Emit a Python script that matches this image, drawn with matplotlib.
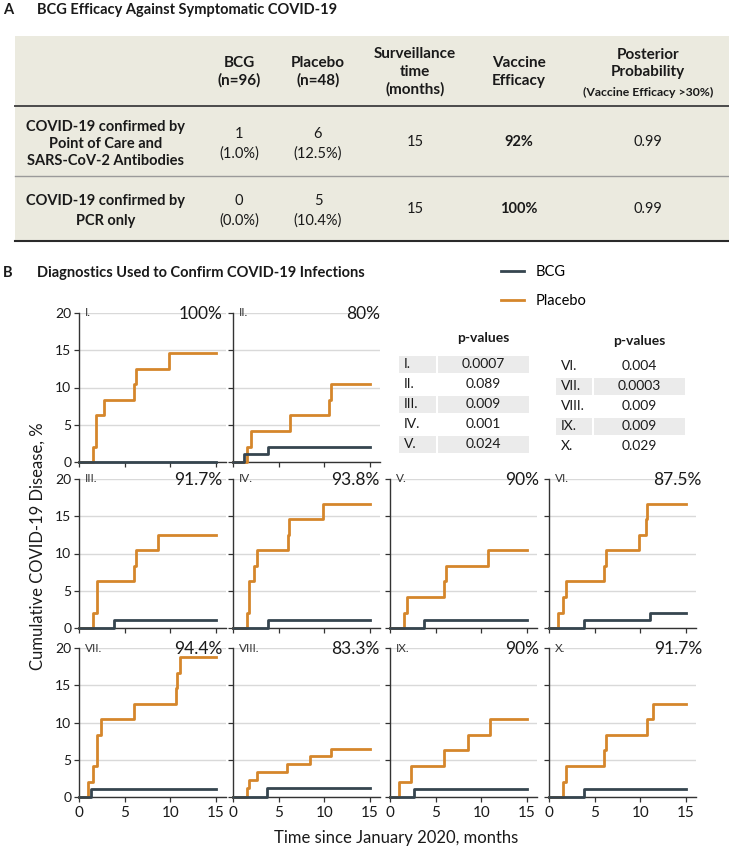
import matplotlib
matplotlib.use("Agg")
import matplotlib.pyplot as plt
from matplotlib.patches import Rectangle

plt.rcParams["font.family"] = ["Lato", "DejaVu Sans"]

# ============ 数据 ============
# A: 表格
TABLE_HEADERS = ["BCG\n(n=96)", "Placebo\n(n=48)", "Surveillance\ntime\n(months)",
                 "Vaccine\nEfficacy", "Posterior\nProbability"]
TABLE_SUBHEADER = "(Vaccine Efficacy >30%)"
ROW_LABELS = ["COVID-19 confirmed by\nPoint of Care and\nSARS-CoV-2 Antibodies",
              "COVID-19 confirmed by\nPCR only"]
BCG_CASES = ["1\n(1.0%)", "0\n(0.0%)"]
PLACEBO_CASES = ["6\n(12.5%)", "5\n(10.4%)"]
SURVEILLANCE = ["15", "15"]
EFFICACY_TABLE = ["92%", "100%"]
POSTERIOR = ["0.99", "0.99"]

# B: 累积发病曲线（事件时间, 累积百分比）
PANEL_NAMES = ["I.", "II.", "III.", "IV.", "V.", "VI.", "VII.", "VIII.", "IX.", "X."]
PANEL_EFFICACY = ["100%", "80%", "91.7%", "93.8%", "90%", "87.5%", "94.4%", "83.3%", "90%", "91.7%"]
PANEL_GRID = [(0, 0), (0, 1), (1, 0), (1, 1), (1, 2), (1, 3), (2, 0), (2, 1), (2, 2), (2, 3)]

PLACEBO_T = [
    [1.55, 1.9, 2.75, 6.05, 6.2, 9.9],
    [1.57, 1.93, 6.24, 10.55, 10.77],
    [1.57, 1.93, 5.98, 6.2, 8.6],
    [1.55, 1.8, 2.29, 2.65, 5.97, 6.16, 9.84],
    [1.57, 1.9, 5.96, 6.18, 10.72],
    [0.96, 1.58, 1.84, 5.99, 6.21, 9.89, 10.59, 10.77],
    [1.02, 1.57, 1.93, 2.37, 5.99, 10.58, 10.73, 11.02],
    [1.54, 1.8, 2.67, 5.93, 8.42, 10.72],
    [0.99, 2.3, 5.96, 8.53, 10.98],
    [1.54, 1.84, 5.99, 6.25, 10.77, 11.43],
]
PLACEBO_Y = [
    [2.08, 6.25, 8.33, 10.42, 12.5, 14.58],
    [2.08, 4.17, 6.25, 8.33, 10.42],
    [2.08, 6.25, 8.33, 10.42, 12.5],
    [2.08, 6.25, 8.33, 10.42, 12.5, 14.58, 16.67],
    [2.08, 4.17, 6.25, 8.33, 10.42],
    [2.08, 4.17, 6.25, 8.33, 10.42, 12.5, 14.58, 16.67],
    [2.08, 4.17, 8.33, 10.42, 12.5, 14.58, 16.67, 18.75],
    [1.17, 2.3, 3.38, 4.41, 5.45, 6.44],
    [2.08, 4.17, 6.25, 8.33, 10.42],
    [2.08, 4.17, 6.25, 8.33, 10.42, 12.5],
]
BCG_T = [[], [1.2, 3.87], [3.87], [3.8], [3.77], [3.79, 11.07], [1.28], [3.77], [2.63], [3.79]]
BCG_Y = [[], [1.04, 2.08], [1.04], [1.04], [1.04], [1.04, 2.08], [1.04], [1.17], [1.04], [1.04]]
END_TIME = 15

P_LABELS_LEFT = ["I.", "II.", "III.", "IV.", "V."]
P_VALUES_LEFT = ["0.0007", "0.089", "0.009", "0.001", "0.024"]
P_LABELS_RIGHT = ["VI.", "VII.", "VIII.", "IX.", "X."]
P_VALUES_RIGHT = ["0.004", "0.0003", "0.009", "0.009", "0.029"]

# ============ 样式 ============
W, H = 729, 848
C_PLACEBO = "#d5862b"
C_BCG = "#36454f"
C_TABLE_BG = "#ebeadf"
C_SHADE = "#ebebeb"
C_TEXT = "#1a1a1a"

fig = plt.figure(figsize=(W / 100, H / 100), dpi=100)

# 像素坐标覆盖层，用于标题与表格
ov = fig.add_axes([0, 0, 1, 1])
ov.set_xlim(0, W)
ov.set_ylim(H, 0)
ov.axis("off")

# ---- A ----
ov.text(3, 10, "A", fontsize=10.5, fontweight="bold", va="center", color=C_TEXT)
ov.text(37, 10, "BCG Efficacy Against Symptomatic COVID-19", fontsize=10.5,
        fontweight="bold", va="center", color=C_TEXT)
ov.add_patch(Rectangle((15, 36), W - 15, 205, facecolor=C_TABLE_BG, edgecolor="none"))
ov.plot([15, W], [106, 106], color="#4a4a4a", lw=1.4)
ov.plot([15, W], [176, 176], color="#9a9a9a", lw=1.0)
ov.plot([15, W], [241, 241], color="#2a2a2a", lw=1.5)

col_x = [239, 318, 415, 519, 648]
header_y = [72, 72, 72, 72, 63.5]
for x, y, txt in zip(col_x, header_y, TABLE_HEADERS):
    ov.text(x, y, txt, fontsize=11, fontweight="bold", ha="center", va="center",
            linespacing=1.3, color=C_TEXT)
ov.text(col_x[4], 92, TABLE_SUBHEADER, fontsize=8.8, fontweight="bold",
        ha="center", va="center", color=C_TEXT)

row_y = [144, 211]
label_spacing = [1.25, 1.5]
for i in range(2):
    y = row_y[i]
    ov.text(106, y, ROW_LABELS[i], fontsize=10.5, fontweight="bold", ha="center",
            va="center", linespacing=label_spacing[i], color=C_TEXT)
    ov.text(col_x[0], y, BCG_CASES[i], fontsize=10.5, ha="center", va="center",
            linespacing=1.5, color=C_TEXT)
    ov.text(col_x[1], y, PLACEBO_CASES[i], fontsize=10.5, ha="center", va="center",
            linespacing=1.5, color=C_TEXT)
    ov.text(col_x[2], y - 2, SURVEILLANCE[i], fontsize=10.5, ha="center", va="center",
            color=C_TEXT)
    ov.text(col_x[3], y - 2, EFFICACY_TABLE[i], fontsize=10.5, fontweight="bold",
            ha="center", va="center", color=C_TEXT)
    ov.text(col_x[4], y - 2, POSTERIOR[i], fontsize=10.5, ha="center", va="center",
            color=C_TEXT)

# ---- B ----
ov.text(3, 273, "B", fontsize=10.5, fontweight="bold", va="center", color=C_TEXT)
ov.text(37, 273, "Diagnostics Used to Confirm COVID-19 Infections", fontsize=10.5,
        fontweight="bold", va="center", color=C_TEXT)

# p-value 表
def draw_pvalues(labels, values, lab_x0, lab_x1, val_x1, head_y, row0, shaded):
    val_x0 = lab_x1 + 2
    ov.text((val_x0 + val_x1) / 2, head_y, "p-values", fontsize=10, fontweight="bold",
            ha="center", va="center", color=C_TEXT)
    for k, (lab, val) in enumerate(zip(labels, values)):
        y = row0 + 20 * k
        if k in shaded:
            ov.add_patch(Rectangle((lab_x0, y - 8.5), lab_x1 - lab_x0, 17,
                                   facecolor=C_SHADE, edgecolor="none"))
            ov.add_patch(Rectangle((val_x0, y - 8.5), val_x1 - val_x0, 17,
                                   facecolor=C_SHADE, edgecolor="none"))
        ov.text(lab_x0 + 5, y, lab, fontsize=10, ha="left", va="center", color=C_TEXT)
        ov.text((val_x0 + val_x1) / 2, y, val, fontsize=10, ha="center", va="center",
                color=C_TEXT)

draw_pvalues(P_LABELS_LEFT, P_VALUES_LEFT, 399, 436, 529, 338, 364, [0, 2, 4])
draw_pvalues(P_LABELS_RIGHT, P_VALUES_RIGHT, 556, 592, 685, 341, 366, [1, 3])

# 面板
col_left = [79, 233, 390, 549]
row_bottom = [462, 628, 797]
ax_w, ax_h = 147, 149
eff_x = [0.975, 1.0, 1.015, 1.04]

handles = None
for i, (r, c) in enumerate(PANEL_GRID):
    ax = fig.add_axes([col_left[c] / W, 1 - row_bottom[r] / H, ax_w / W, ax_h / H])
    ax.set_xlim(0, 16.1)
    ax.set_ylim(0, 20)
    for s in ["top", "right"]:
        ax.spines[s].set_visible(False)
    for s in ["left", "bottom"]:
        ax.spines[s].set_color("#333333")
        ax.spines[s].set_linewidth(1.0)
    ax.set_yticks([0, 5, 10, 15, 20])
    ax.set_xticks([0, 5, 10, 15])
    ax.grid(axis="y", color="#d9d9d9", lw=1.0)
    ax.set_axisbelow(True)
    ax.tick_params(direction="out", length=3.5, width=0.9, color="#333333",
                   labelcolor=C_TEXT)
    ax.tick_params(axis="y", labelsize=10, pad=2)
    ax.tick_params(axis="x", labelsize=11, pad=3)
    if c != 0:
        ax.set_yticklabels([])
    if r != 2:
        ax.set_xticklabels([])

    px = [0] + PLACEBO_T[i] + [END_TIME]
    py = [0] + PLACEBO_Y[i] + [PLACEBO_Y[i][-1]]
    bx = [0] + BCG_T[i] + [END_TIME]
    by = [0] + BCG_Y[i] + [BCG_Y[i][-1] if BCG_Y[i] else 0]
    l_bcg, = ax.step(bx, by, where="post", color=C_BCG, lw=2.0, clip_on=False,
                     zorder=4, label="BCG")
    l_pla, = ax.step(px, py, where="post", color=C_PLACEBO, lw=2.0, clip_on=False,
                     zorder=3, label="Placebo")
    if handles is None:
        handles = [l_bcg, l_pla]

    ax.text(0.04, 1.0, PANEL_NAMES[i], transform=ax.transAxes, fontsize=8.5,
            ha="left", va="center", color="#333333")
    ax.text(eff_x[c], 0.962, PANEL_EFFICACY[i], transform=ax.transAxes, fontsize=12.5,
            ha="right", va="baseline", color=C_TEXT)

fig.text(38 / W, 1 - 546 / H, "Cumulative COVID-19 Disease, %", rotation=90,
         fontsize=12, ha="center", va="center", color=C_TEXT)
fig.text(396 / W, 1 - 838 / H, "Time since January 2020, months", fontsize=12,
         ha="center", va="center", color=C_TEXT)

fig.legend(handles, ["BCG", "Placebo"], loc="upper left",
           bbox_to_anchor=(501 / W, 1 - 265 / H), frameon=False, fontsize=10.5,
           handlelength=1.6, handletextpad=0.75, labelspacing=1.05,
           borderpad=0, borderaxespad=0)

fig.savefig("out.png", dpi=100)
plt.close(fig)
